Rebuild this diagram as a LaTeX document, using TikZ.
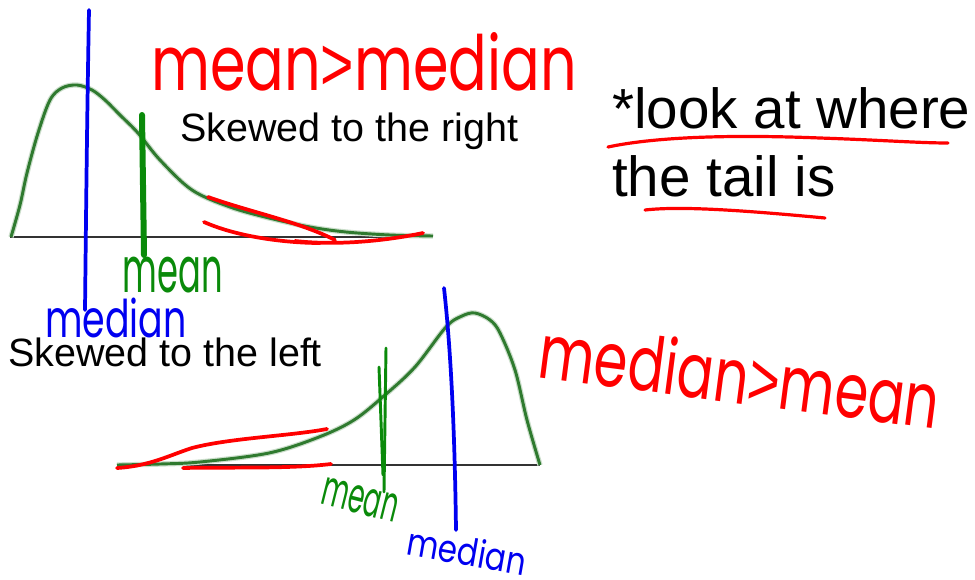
\documentclass[tikz,border=0pt]{standalone}
\usepackage{fontspec}
\usepackage{graphicx}
\setmainfont{Liberation Sans}
\newfontfamily\handfont{Poppins}
\definecolor{penred}{HTML}{FF0000}
\definecolor{penblue}{HTML}{0000F0}
\definecolor{pengreen}{HTML}{0A8A0A}
\definecolor{curvegreen}{HTML}{2F7A2F}
\definecolor{axisgray}{HTML}{333333}
\usetikzlibrary{positioning}
\newcommand{\hw}[3]{\resizebox*{#1}{#2}{\handfont #3}}

\begin{document}
\begin{tikzpicture}[
  x=0.75pt, y=-0.75pt,
  axis/.style={draw=axisgray, line width=1.2pt},
  curve/.style={draw=curvegreen, line width=2.2pt, line join=round,
    preaction={draw=curvegreen!25, line width=4pt}},
  pen/.style={line width=2.8pt, line cap=round, line join=round},
  hand/.style={inner sep=0pt},
  typed/.style={inner sep=0pt, anchor=base west,
    font=\fontsize{29.6}{30}\selectfont},
  note/.style={inner sep=0pt, anchor=base west,
    font=\fontsize{42.4}{44}\selectfont}
]
  \useasboundingbox (0,0) rectangle (975,579);

  % Top: skewed to the right
  \draw[axis] (10,237) -- (433,237);
  \draw[curve] plot[smooth, tension=0.55] coordinates {
    (11,237) (20,205) (27,173) (38,133) (50,100) (62,88) (77,85)
    (92,90) (105,100) (120,115) (138,133) (160,160) (192,190)
    (230,207) (269,218) (310,227) (346,232) (390,235) (433,236)};
  \draw[pen, penblue] (89,10) .. controls (87,120) and (86,220) .. (85,310);
  \draw[pen, pengreen, line width=4.5pt] (142,115) -- (144,255);
  \draw[pen, penred] (208,197) .. controls (250,212) and (300,222) .. (335,240);
  \draw[pen, penred] (204,222) .. controls (240,238) and (290,243) .. (320,243);
  \draw[pen, penred] (295,241) .. controls (340,246) and (390,240) .. (423,233);

  \node[hand, text=penred] (rmm) at (364,62) {\hw{319pt}{44pt}{mean{\rmfamily>}median}};
  \node[typed] (sright) at (180,141) {Skewed to the right};
  \node[hand, text=pengreen] (tmean) at (173,275) {\hw{75pt}{27pt}{mean}};
  \node[hand, text=penblue] (tmedian) at (116,318) {\hw{106pt}{30pt}{median}};

  % Right: the note
  \node[note] (look) at (612,128) {*look at where};
  \node[note] (tail) at (612,196) {the tail is};
  \draw[pen, penred, line width=2.4pt] (608,147) .. controls (650,138) and (720,134) .. (820,138)
    .. controls (880,140) and (920,143) .. (948,143);
  \draw[pen, penred, line width=2.4pt] (645,210) .. controls (680,206) and (740,210) .. (825,218);
  \node[hand, text=penred, rotate=-7.4] (rmd) at (740,375) {\hw{302pt}{44pt}{median{\rmfamily>}mean}};

  % Bottom: skewed to the left
  \node[typed] (sleft) at (8,366) {Skewed to the left};
  \draw[axis] (117,465) -- (540,465);
  \draw[curve] plot[smooth, tension=0.55] coordinates {
    (117,465) (160,464) (200,462) (269,453) (319,437) (354,420)
    (385,395) (415,367) (446,327) (462,316) (475,313) (490,320)
    (500,333) (515,370) (527,420) (540,465)};
  \draw[pen, penblue] (444,288) .. controls (452,360) and (455,450) .. (456,530);
  \draw[pen, pengreen, line width=2.2pt] (386,348) -- (384,492);
  \draw[pen, pengreen, line width=2.2pt] (379,367) -- (383,475);
  \draw[pen, penred] (117,468) .. controls (150,466) and (170,455) .. (192,448)
    .. controls (230,438) and (290,436) .. (327,429);
  \draw[pen, penred] (183,468) .. controls (230,467) and (290,469) .. (331,464);

  \node[hand, text=pengreen, rotate=-14] (bmean) at (360,500) {\hw{58pt}{21pt}{mean}};
  \node[hand, text=penblue, rotate=-10] (bmedian) at (467,551) {\hw{90pt}{22pt}{median}};
\end{tikzpicture}
\end{document}
